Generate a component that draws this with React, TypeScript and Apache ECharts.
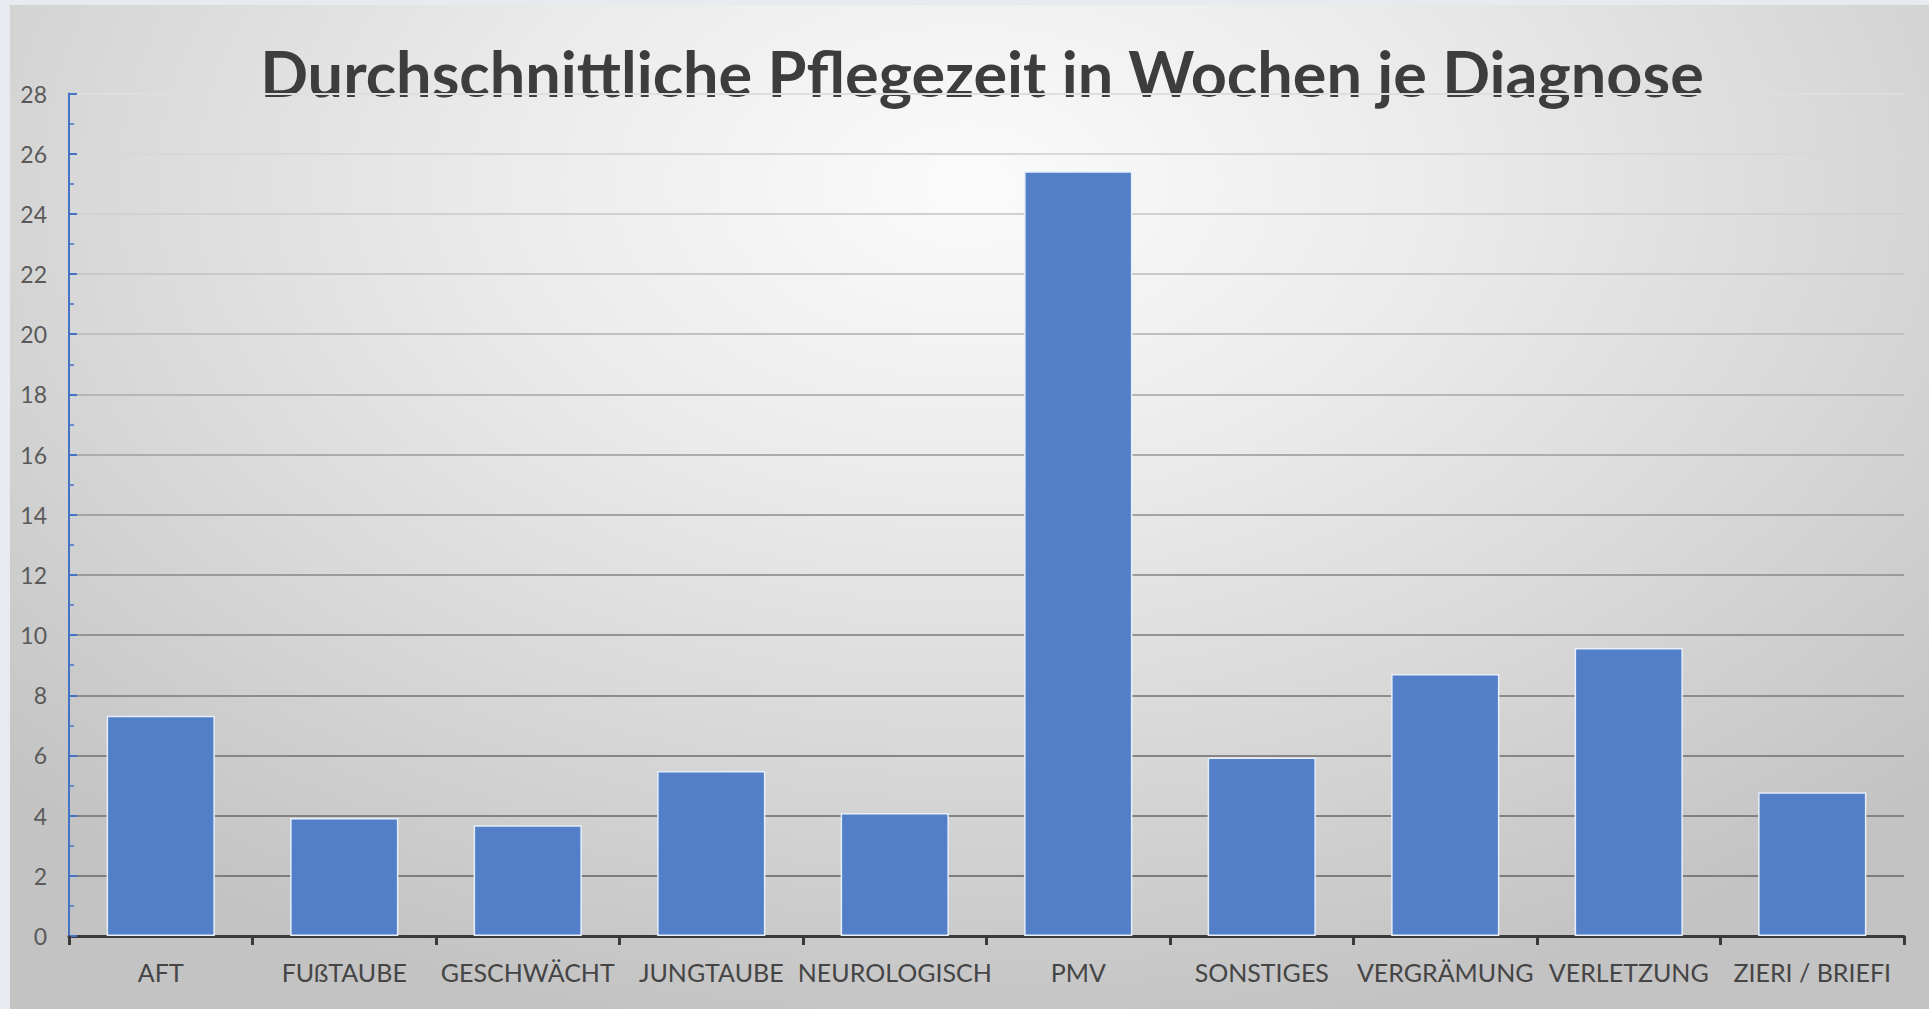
import React, { useEffect, useRef } from "react";
import * as echarts from "echarts";

const titleText = "Durchschnittliche Pflegezeit in Wochen je Diagnose";
const categories = [
  "AFT",
  "FUßTAUBE",
  "GESCHWÄCHT",
  "JUNGTAUBE",
  "NEUROLOGISCH",
  "PMV",
  "SONSTIGES",
  "VERGRÄMUNG",
  "VERLETZUNG",
  "ZIERI / BRIEFI",
];
const values = [7.32, 3.92, 3.68, 5.48, 4.09, 25.42, 5.93, 8.71, 9.57, 4.78];
const yMin = 0;
const yMax = 28;
const yInterval = 2;

const gridLineColors = [
  "#6f6f6f", "#7d7d7d", "#828282", "#868686", "#8c8c8c", "#939393", "#9b9b9b",
  "#a3a3a3", "#acacac", "#b6b6b6", "#c0c0c0", "#c9c9c9", "#d1d1d1", "#d8d8d8", "#dedede",
];

export default function App() {
  const ref = useRef<HTMLDivElement>(null);
  useEffect(() => {
    if (!ref.current) return;
    const chart = echarts.init(ref.current, undefined, { renderer: "svg" });
    chart.setOption({
      animation: false,
      backgroundColor: "transparent",
      graphic: [
        {
          type: "text",
          x: 982,
          y: 72,
          style: {
            text: titleText,
            fontFamily: "Lato",
            fontWeight: "bold",
            fontSize: 63,
            fill: "#3d3d3d",
            textAlign: "center",
            textVerticalAlign: "middle",
          },
        },
      ],
      grid: { left: 69, right: 25, top: 93.5, bottom: 73, containLabel: false },
      xAxis: {
        type: "category",
        data: categories,
        boundaryGap: true,
        axisLine: { show: true, lineStyle: { color: "#3a3a3a", width: 3 } },
        axisTick: { show: true, length: 9, lineStyle: { color: "#3a3a3a", width: 3 } },
        axisLabel: {
          color: "#454545",
          fontFamily: "Lato",
          fontSize: 25,
          margin: 23,
          interval: 0,
        },
        splitLine: { show: false },
      },
      yAxis: {
        type: "value",
        min: yMin,
        max: yMax,
        interval: yInterval,
        axisLine: { show: true, lineStyle: { color: "#4472c4", width: 2 } },
        axisTick: { show: true, inside: true, length: 8, lineStyle: { color: "#4472c4", width: 2 } },
        minorTick: { show: true, splitNumber: 2, length: 5, lineStyle: { color: "#4472c4", width: 1.5 } },
        axisLabel: {
          color: "#5a5a5a",
          fontFamily: "Lato",
          fontSize: 23,
          margin: 22,
        },
        splitLine: { show: true, lineStyle: { color: gridLineColors, width: 2 } },
      },
      series: [
        {
          type: "bar",
          data: values,
          barWidth: "59%",
          itemStyle: {
            color: "#527fc7",
            borderColor: "#e6eef9",
            borderWidth: 1.5,
          },
        },
      ],
    });
    return () => chart.dispose();
  }, []);

  return (
    <div
      style={{
        position: "fixed",
        left: 0,
        top: 0,
        width: 1929,
        height: 1009,
        background: "#e7ebef",
        overflow: "hidden",
      }}
    >
      <div
        style={{
          position: "absolute",
          left: 10,
          top: 5,
          width: 1919,
          height: 1004,
          background:
            "radial-gradient(ellipse 70% 85% at 50% 18%, #fbfbfb 0%, #ebebeb 35%, #d9d9d9 65%, #c3c3c3 100%)",
        }}
      />
      <div
        ref={ref}
        style={{ position: "absolute", left: 0, top: 0, width: 1929, height: 1009 }}
      />
    </div>
  );
}
